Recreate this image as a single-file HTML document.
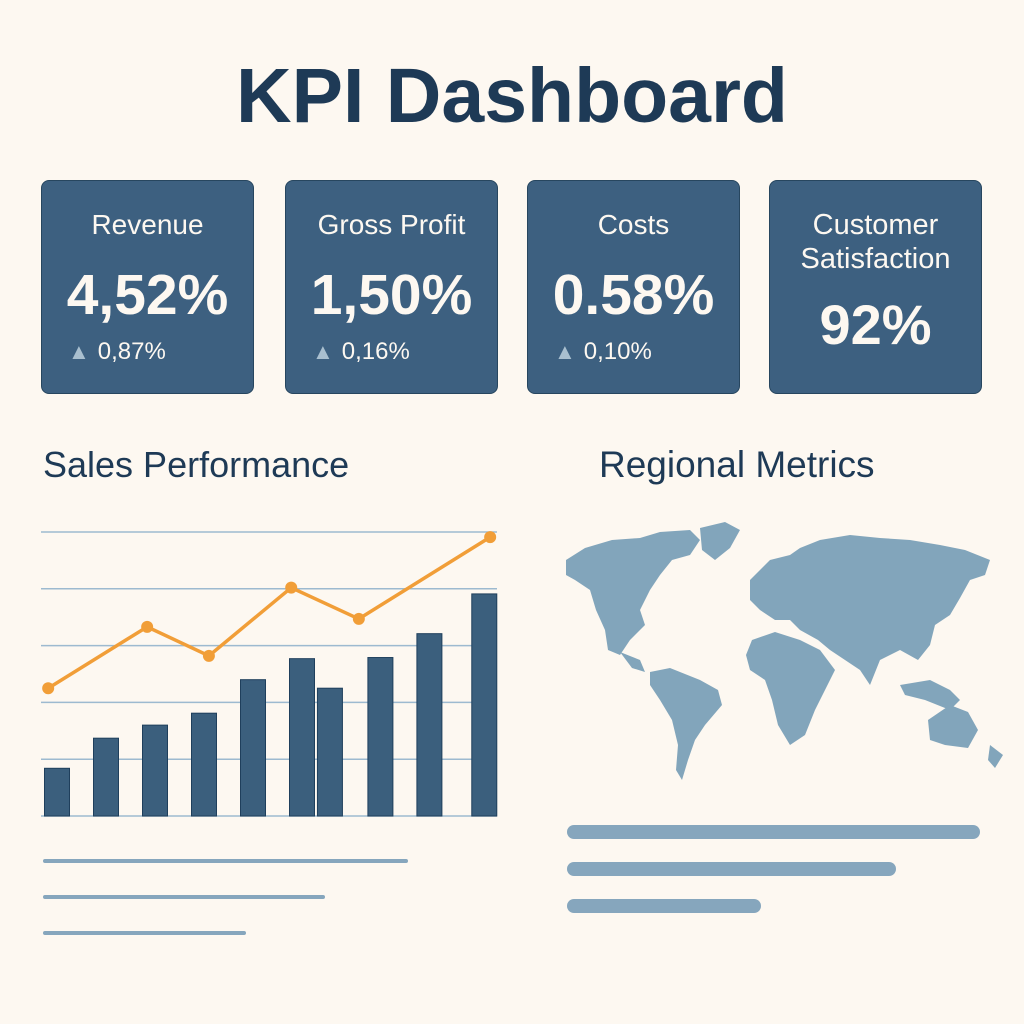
<!DOCTYPE html>
<html><head><meta charset="utf-8"><style>
body{margin:0;width:1024px;height:1024px;background:#fdf8f1;font-family:"Liberation Sans","DejaVu Sans",sans-serif;position:relative;overflow:hidden}
.t{position:absolute;left:0;width:1024px;text-align:center;top:52px;font-size:77px;font-weight:bold;color:#1e3a56;margin:0}
.card{position:absolute;top:180px;height:214px;width:213px;background:#3d6080;border:1.5px solid #27465f;border-radius:8px;color:#fdf8f1;text-align:center;box-sizing:border-box}
.card .n{font-size:28px;margin-top:27px;line-height:34px}
.card .v{font-size:57px;font-weight:bold;margin-top:22px;line-height:62px}
.card .d{font-size:24px;text-align:left;padding-left:26px;margin-top:12px}
.card .d span{color:#a9bfcf;font-size:22px;margin-right:8px}
.h{position:absolute;font-size:36px;color:#1e3a56;top:444px}
.bar{position:absolute;background:#86a6bd;border-radius:4px}
</style></head><body>
<h1 class="t">KPI Dashboard</h1>
<div class="card" style="left:41px"><div class="n">Revenue</div><div class="v">4,52%</div><div class="d"><span>▲</span>0,87%</div></div>
<div class="card" style="left:285px"><div class="n">Gross Profit</div><div class="v">1,50%</div><div class="d"><span>▲</span>0,16%</div></div>
<div class="card" style="left:527px"><div class="n">Costs</div><div class="v">0.58%</div><div class="d"><span>▲</span>0,10%</div></div>
<div class="card" style="left:769px"><div class="n" style="font-size:29px">Customer<br>Satisfaction</div><div class="v" style="margin-top:18px;font-size:56px">92%</div></div>
<div class="h" style="left:43px">Sales Performance</div>
<div class="h" style="left:599px;font-size:37px">Regional Metrics</div>
<svg id="chart" width="1024" height="1024" style="position:absolute;left:0;top:0"></svg>
<svg width="1024" height="1024" style="position:absolute;left:0;top:0">
<g fill="#82a5bb">
<path d="M566,560 L585,548 L612,540 L640,538 L660,532 L690,530 L700,540 L690,555 L672,560 L660,575 L650,590 L640,610 L645,625 L630,640 L620,655 L608,650 L605,630 L596,610 L590,590 L575,580 L566,575Z"/>
<path d="M700,528 L725,522 L740,530 L730,548 L715,560 L702,550Z"/>
<path d="M620,652 L640,660 L645,672 L632,668Z"/>
<path d="M650,672 L670,668 L700,680 L718,690 L722,705 L705,725 L695,740 L688,760 L682,780 L676,770 L678,745 L672,720 L660,700 L650,685Z"/>
<path d="M750,580 L770,560 L790,555 L800,548 L820,540 L850,535 L880,538 L910,540 L940,545 L965,550 L990,560 L985,575 L970,580 L960,598 L950,615 L935,625 L930,645 L918,660 L900,650 L880,660 L870,685 L860,670 L845,660 L830,650 L818,640 L800,630 L790,620 L775,620 L760,610 L750,600Z"/>
<path d="M752,640 L775,632 L800,640 L820,650 L835,670 L825,690 L815,710 L805,735 L790,745 L778,725 L772,700 L765,680 L750,670 L746,655Z"/>
<path d="M900,685 L930,680 L950,690 L960,700 L950,710 L925,700 L905,695Z"/>
<path d="M928,720 L950,705 L968,712 L978,730 L968,748 L945,745 L930,740Z"/>
<path d="M990,745 L1003,755 L995,768 L988,760Z"/>
<path d="M790,570 L798,582 L792,592 L785,585Z"/>
</g></svg>
<div class="bar" style="left:43px;top:859px;width:365px;height:4px"></div>
<div class="bar" style="left:43px;top:895px;width:282px;height:4px"></div>
<div class="bar" style="left:43px;top:931px;width:203px;height:4px"></div>
<div class="bar" style="left:567px;top:825px;width:413px;height:14px;border-radius:7px"></div>
<div class="bar" style="left:567px;top:862px;width:329px;height:14px;border-radius:7px"></div>
<div class="bar" style="left:567px;top:899px;width:194px;height:14px;border-radius:7px"></div>
<script>
const barPeriods=[0,1,2,3,4,5,5.57,6.6,7.6,8.72];
const barValues=[0.84,1.37,1.60,1.81,2.40,2.77,2.25,2.79,3.21,3.91];
const linePeriods=[-0.18,1.84,3.10,4.78,6.16,8.84];
const lineValues=[2.25,3.33,2.82,4.02,3.47,4.91];
const gridTicks=[0,1,2,3,4,5];
const svg=document.getElementById('chart');
const NS='http://www.w3.org/2000/svg';
const x=t=>57+t*49;
const y=v=>816-v*56.8;
function mk(tag,at){const e=document.createElementNS(NS,tag);for(const k in at)e.setAttribute(k,at[k]);svg.appendChild(e);return e;}
gridTicks.forEach(g=>{const l=mk('line',{x1:41,x2:497,y1:y(g),y2:y(g),stroke:'#9dbad0','stroke-width':1.5});

});
barValues.forEach((v,i)=>{const r=mk('rect',{x:x(barPeriods[i])-12.5,y:y(v),width:25,height:y(0)-y(v),fill:'#3b5f7d',stroke:'#1f3f5c','stroke-width':1});

});
const p=mk('polyline',{points:lineValues.map((v,i)=>x(linePeriods[i])+','+y(v)).join(' '),fill:'none',stroke:'#f19e38','stroke-width':3.5});


lineValues.forEach((v,i)=>{const c=mk('circle',{cx:x(linePeriods[i]),cy:y(v),r:6,fill:'#f19e38'});

});
</script>
</body></html>
